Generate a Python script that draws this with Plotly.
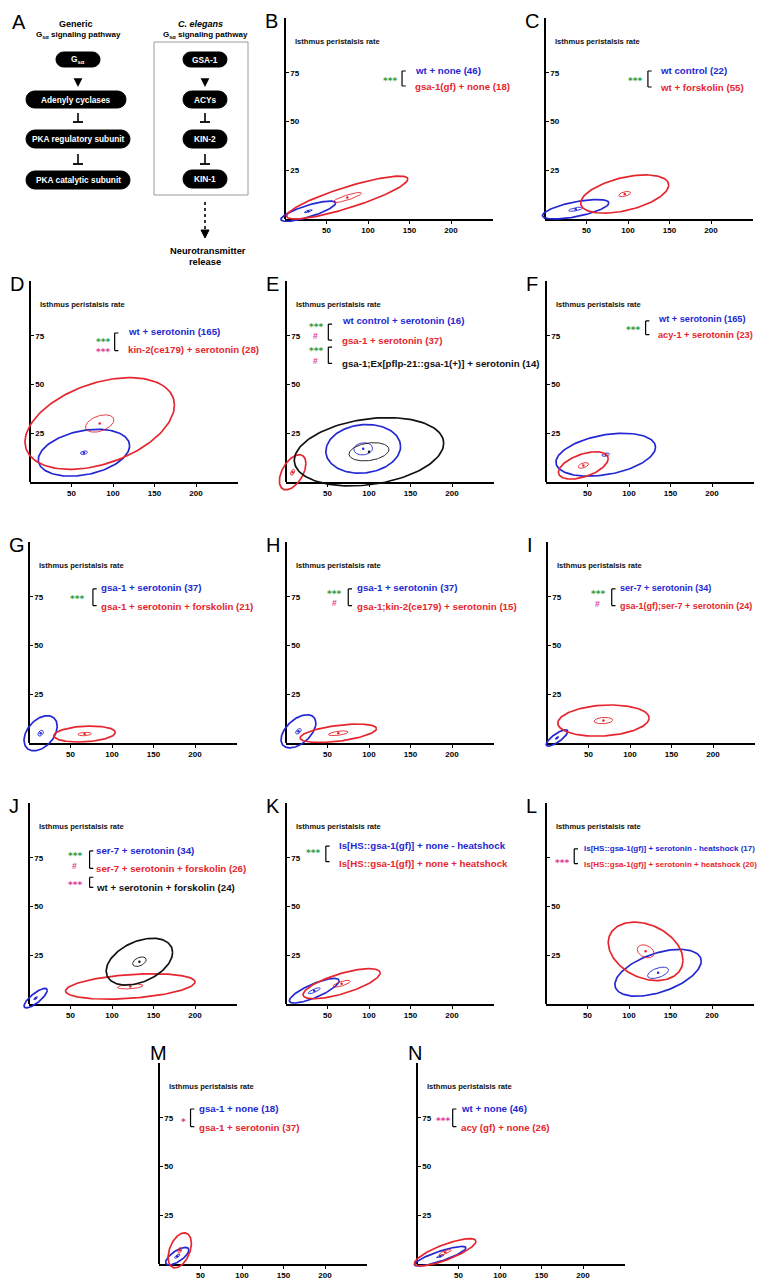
import numpy as np
import plotly.graph_objects as go

W, H = 767, 1280
KX, KY = 0.83, 1.95          # pixels per data unit
XMAX, YMAX = 250, 103

BLUE = "#2328d2"
RED = "#e6262e"
BLACK = "#111111"
GREEN = "#2e9b3e"
MAGENTA = "#dd3b96"
COL = {"b": BLUE, "r": RED, "k": BLACK}
FONT = "Liberation Sans"
STARFONT = "DejaVu Sans"

panels = list("BCDEFGHIJKLMN")

# ------------------------------------------------------------------ data
group_labels = {
    "B": ["wt + none (46)", "gsa-1(gf) + none (18)"],
    "C": ["wt control (22)", "wt + forskolin (55)"],
    "D": ["wt + serotonin (165)", "kin-2(ce179) + serotonin (28)"],
    "E": ["wt control + serotonin (16)", "gsa-1 + serotonin (37)",
          "gsa-1;Ex[pflp-21::gsa-1(+)] + serotonin (14)"],
    "F": ["wt + serotonin (165)", "acy-1 + serotonin (23)"],
    "G": ["gsa-1 + serotonin (37)", "gsa-1 + serotonin + forskolin (21)"],
    "H": ["gsa-1 + serotonin (37)", "gsa-1;kin-2(ce179) + serotonin (15)"],
    "I": ["ser-7 + serotonin (34)", "gsa-1(gf);ser-7 + serotonin (24)"],
    "J": ["ser-7 + serotonin (34)", "ser-7 + serotonin + forskolin (26)",
          "wt + serotonin + forskolin (24)"],
    "K": ["Is[HS::gsa-1(gf)] + none - heatshock", "Is[HS::gsa-1(gf)] + none + heatshock"],
    "L": ["Is[HS::gsa-1(gf)] + serotonin - heatshock (17)",
          "Is[HS::gsa-1(gf)] + serotonin + heatshock (20)"],
    "M": ["gsa-1 + none (18)", "gsa-1 + serotonin (37)"],
    "N": ["wt + none (46)", "acy (gf) + none (26)"],
}
group_colors = {p: ["b", "r"] for p in panels}
group_colors["E"] = ["b", "r", "k"]
group_colors["J"] = ["b", "r", "k"]

n_animals = {
    "B": [46, 18], "C": [22, 55], "D": [165, 28], "E": [16, 37, 14], "F": [165, 23],
    "G": [37, 21], "H": [37, 15], "I": [34, 24], "J": [34, 26, 24], "K": [17, 20],
    "L": [17, 20], "M": [18, 37], "N": [46, 26],
}
# mean pumping rate (x), mean peristalsis rate (y)
mean_x = {
    "B": [28, 75], "C": [37, 96], "D": [65, 84], "E": [93, 8, 100], "F": [72, 45],
    "G": [14, 67], "H": [15, 63], "I": [12, 68], "J": [8, 122, 133], "K": [34, 67],
    "L": [135, 120], "M": [22, 25], "N": [28, 34],
}
mean_y = {
    "B": [4, 11], "C": [5, 12.8], "D": [15, 30], "E": [17, 5, 15.5], "F": [14, 8.5],
    "G": [5, 4.6], "H": [6, 5], "I": [2.6, 11.5], "J": [3, 9, 21.7], "K": [6.8, 10.4],
    "L": [16, 27], "M": [4, 7], "N": [4, 6],
}
# standard deviations and x-y correlation of each group
sd_x = {
    "B": [33, 73], "C": [40, 53], "D": [55, 90], "E": [45, 16, 90], "F": [60, 30],
    "G": [20, 37], "H": [21, 46], "I": [13, 55], "J": [14, 78, 40], "K": [30, 46.5],
    "L": [52, 45], "M": [14, 14], "N": [31, 37],
}
sd_y = {
    "B": [5.2, 11], "C": [5, 9.8], "D": [12, 23.5], "E": [12.5, 9, 17.5], "F": [11, 7],
    "G": [9, 4.1], "H": [8.5, 4.7], "I": [4.2, 8], "J": [5, 6.5, 12], "K": [6.3, 7.7],
    "L": [12, 15], "M": [4.5, 9], "N": [5, 7],
}
corr = {
    "B": [0.8, 0.86], "C": [0.64, 0.47], "D": [0.3, 0.4], "E": [0.1, 0.5, 0.25],
    "F": [0.35, 0.5], "G": [0.4, 0.2], "H": [0.5, 0.5], "I": [0.8, 0.16],
    "J": [0.8, 0.35, 0.4], "K": [0.8, 0.72], "L": [0.5, -0.3], "M": [0.7, 0.4],
    "N": [0.85, 0.8],
}
x_ticks = [50, 100, 150, 200]
y_ticks = [25, 50, 75]

# ------------------------------------------------------------------ layout (pixels)
origin = {
    "B": (277, 211), "C": (537, 211),
    "D": (22, 474), "E": (278, 474), "F": (538, 474),
    "G": (21, 735), "H": (278, 735), "I": (539, 735),
    "J": (21, 996), "K": (278, 996), "L": (538, 996),
    "M": (151, 1256), "N": (409, 1256),
}
letter_dx = {p: -22 for p in panels}
letter_dy = {p: -211 for p in panels}
for p in "MN":
    letter_dx[p] = -11
    letter_dy[p] = -224
label_size = {p: 9.7 for p in panels}
label_size["F"] = 9.2
label_size["I"] = 9.0
label_size["L"] = 8.0
hidden_75 = {"L"}

legend_pos = {
    "B": dict(lx=155, ly=[76.4, 67.7], br=[(141, 75.9, 68.2)], st=[("***", GREEN, 126, 72)]),
    "C": dict(lx=137, ly=[76, 67.2], br=[(124, 75.9, 67.7)], st=[("***", GREEN, 109, 72)]),
    "D": dict(lx=117, ly=[77.4, 67.7], br=[(102, 76.4, 67.4)],
              st=[("***", GREEN, 88, 73.2), ("***", MAGENTA, 88, 68.0)]),
    "E": dict(lx=66, ly=[83, 72.8, 61], br=[(51, 81, 72.8), (51, 69.2, 60.8)],
              st=[("***", GREEN, 36, 80.8), ("#", MAGENTA, 36, 74.9),
                  ("***", GREEN, 36, 68.4), ("#", MAGENTA, 36, 62.3)]),
    "F": dict(lx=134, ly=[83.6, 75.4], br=[(120, 82.6, 75.6)], st=[("***", GREEN, 105, 79)]),
    "G": dict(lx=86, ly=[79.6, 70], br=[(77, 79, 70.5)], st=[("***", GREEN, 58, 75.2)]),
    "H": dict(lx=84, ly=[79.6, 70], br=[(75, 79, 70.5)],
              st=[("***", GREEN, 58, 77.8), ("#", MAGENTA, 58, 71.6)]),
    "I": dict(lx=87, ly=[79.6, 70.3], br=[(78, 79, 70.5)],
              st=[("***", GREEN, 61, 77.8), ("#", MAGENTA, 61, 71.2)]),
    "J": dict(lx=79, ly=[78.8, 69.4, 59.6], br=[(73, 78.5, 69.6), (73, 65, 59.8)],
              st=[("***", GREEN, 55, 77.0), ("#", MAGENTA, 55, 71.0), ("***", MAGENTA, 55, 62.3)]),
    "K": dict(lx=63, ly=[81.5, 72.3], br=[(48, 81, 73)], st=[("***", GREEN, 32.5, 78.8)]),
    "L": dict(lx=44, ly=[79.6, 71.4], br=[(34, 79.6, 72)], st=[("***", MAGENTA, 18.7, 73.6)]),
    "M": dict(lx=47, ly=[80, 70], br=[(38, 79.5, 70.5)], st=[("*", MAGENTA, 30, 74.2)]),
    "N": dict(lx=52, ly=[80, 70], br=[(43, 79.5, 70.5)], st=[("***", MAGENTA, 31, 74.4)]),
}


def ax(kind, n):
    return kind if n == 1 else f"{kind}{n}"


def axkey(kind, n):
    return f"{kind}axis" if n == 1 else f"{kind}axis{n}"


def ellipse(cx, cy, sx, sy, r, npts=140):
    t = np.linspace(0, 2 * np.pi, npts)
    return cx + sx * np.cos(t), cy + sy * (r * np.cos(t) + np.sqrt(1 - r * r) * np.sin(t))


fig = go.Figure()
layout = dict(width=W, height=H, margin=dict(l=0, r=0, t=0, b=0),
              paper_bgcolor="white", plot_bgcolor="rgba(0,0,0,0)", showlegend=False)
annotations, shapes = [], []
TICKFONT = dict(family=FONT, size=8, color="black", weight="bold")

for i, p in enumerate(panels):
    ox, oy = origin[p]
    v, h = 2 * i + 1, 2 * i + 2
    ytext = [str(t) for t in y_ticks]
    if p in hidden_75:
        ytext[-1] = ""
    # visible axes
    layout[axkey("x", v)] = dict(
        domain=[ox / W, (ox + XMAX * KX) / W], range=[0, XMAX], anchor=ax("y", v),
        showline=True, linecolor="black", linewidth=1.5, showgrid=False, zeroline=False,
        tickvals=x_ticks, ticks="outside", ticklen=3, tickwidth=1, tickcolor="black",
        tickfont=TICKFONT, fixedrange=True)
    layout[axkey("y", v)] = dict(
        domain=[(H - oy) / H, (H - oy + YMAX * KY) / H], range=[0, YMAX], anchor="free",
        position=ox / W, side="right",
        showline=True, linecolor="black", linewidth=1.5, showgrid=False, zeroline=False,
        tickvals=y_ticks, ticktext=ytext, ticks="outside", ticklen=3, tickwidth=1,
        tickcolor="black", tickfont=TICKFONT, fixedrange=True)
    # data axes (same scale, wider clip region)
    layout[axkey("x", h)] = dict(domain=[(ox - 18 * KX) / W, (ox + XMAX * KX) / W],
                                 range=[-18, XMAX], anchor=ax("y", h), visible=False)
    layout[axkey("y", h)] = dict(domain=[max(0, (H - oy - 9 * KY) / H), (H - oy + YMAX * KY) / H],
                                 range=[-9, YMAX], anchor=ax("x", h), visible=False)
    fig.add_trace(go.Scatter(x=[None], y=[None], xaxis=ax("x", v), yaxis=ax("y", v),
                             mode="markers", hoverinfo="skip"))

    lp = legend_pos[p]
    for g in range(len(group_labels[p])):
        c = COL[group_colors[p][g]]
        cx, cy, sx, sy, r = mean_x[p][g], mean_y[p][g], sd_x[p][g], sd_y[p][g], corr[p][g]
        sem = np.sqrt(n_animals[p][g])
        ex, ey = ellipse(cx, cy, sx, sy, r)
        fig.add_trace(go.Scatter(x=ex, y=ey, mode="lines", line=dict(color=c, width=1.7),
                                 xaxis=ax("x", h), yaxis=ax("y", h), hoverinfo="skip"))
        ex, ey = ellipse(cx, cy, sx / sem, sy / sem, r)
        fig.add_trace(go.Scatter(x=ex, y=ey, mode="lines", line=dict(color=c, width=0.9),
                                 xaxis=ax("x", h), yaxis=ax("y", h), hoverinfo="skip"))
        fig.add_trace(go.Scatter(x=[cx], y=[cy], mode="markers",
                                 marker=dict(color=c, size=2.5),
                                 xaxis=ax("x", h), yaxis=ax("y", h), hoverinfo="skip"))
        annotations.append(dict(
            x=lp["lx"], y=lp["ly"][g], xref=ax("x", v), yref=ax("y", v), text=group_labels[p][g],
            showarrow=False, xanchor="left", yanchor="middle", borderpad=0,
            font=dict(family=FONT, size=label_size[p], color=c, weight="bold")))

    for bx, y0, y1 in lp["br"]:
        for (xa, ya, xb, yb) in [(bx, y0, bx, y1), (bx, y0, bx + 4.5, y0), (bx, y1, bx + 4.5, y1)]:
            shapes.append(dict(type="line", xref=ax("x", v), yref=ax("y", v),
                               x0=xa, y0=ya, x1=xb, y1=yb, line=dict(color="black", width=1.2)))
    for txt_, c, sx_, sy_ in lp["st"]:
        star = "*" in txt_
        annotations.append(dict(
            x=sx_, y=sy_, xref=ax("x", v), yref=ax("y", v), text=txt_, showarrow=False,
            xanchor="center", yanchor="middle", yshift=-2.5 if star else 0, borderpad=0,
            font=dict(family=STARFONT if star else FONT, size=9 if star else 8.5,
                      color=c, weight="bold")))
    # axis titles
    annotations.append(dict(x=10, y=91, xref=ax("x", v), yref=ax("y", v),
                            text="Isthmus peristalsis rate", showarrow=False,
                            xanchor="left", yanchor="middle",
                            font=dict(family=FONT, size=7.6, color="#111", weight="bold")))
    annotations.append(dict(x=247, y=-12, xref=ax("x", v), yref=ax("y", v),
                            text="Pharyngeal pumping rate", showarrow=False,
                            xanchor="right", yanchor="middle",
                            font=dict(family=FONT, size=7.6, color="#111", weight="bold")))
    # panel letter
    annotations.append(dict(x=(ox + letter_dx[p]) / W, y=1 - (oy + letter_dy[p]) / H,
                            xref="paper", yref="paper",
                            text=p, showarrow=False, xanchor="left", yanchor="top",
                            font=dict(family="Liberation Sans", size=20, color="black")))

# ------------------------------------------------------------------ panel A (pixel axes)
PA = 2 * len(panels) + 1
layout[axkey("x", PA)] = dict(domain=[0, 1], range=[0, W], visible=False, anchor=ax("y", PA))
layout[axkey("y", PA)] = dict(domain=[0, 1], range=[H, 0], visible=False, anchor=ax("x", PA))
fig.add_trace(go.Scatter(x=[None], y=[None], xaxis=ax("x", PA), yaxis=ax("y", PA),
                         mode="markers", hoverinfo="skip"))
XA, YA = ax("x", PA), ax("y", PA)


def txt(x, y, s, size=8.5, color="black", bold=True, anchor="center"):
    annotations.append(dict(x=x, y=y, xref=XA, yref=YA, text=s, showarrow=False,
                            xanchor=anchor, yanchor="middle",
                            font=dict(family=FONT, size=size, color=color,
                                      weight="bold" if bold else "normal")))


def pill(x0, y0, x1, y1, label):
    rr = (y1 - y0) / 2
    pts = []
    for a in np.linspace(-np.pi / 2, np.pi / 2, 10):
        pts.append((x1 - rr + rr * np.cos(a), (y0 + y1) / 2 + rr * np.sin(a)))
    for a in np.linspace(np.pi / 2, 3 * np.pi / 2, 10):
        pts.append((x0 + rr + rr * np.cos(a), (y0 + y1) / 2 + rr * np.sin(a)))
    path = "M " + " L ".join(f"{px:.2f},{py:.2f}" for px, py in pts) + " Z"
    shapes.append(dict(type="path", path=path, xref=XA, yref=YA, fillcolor="black",
                       line=dict(color="black", width=1)))
    txt((x0 + x1) / 2, (y0 + y1) / 2, label, 8.3, "white")


def arrow_down(x, y0, y1):
    annotations.append(dict(x=x, y=y1, ax=x, ay=y0, xref=XA, yref=YA, axref=XA, ayref=YA,
                            text=" ", showarrow=True, arrowhead=2, arrowsize=1.1,
                            arrowwidth=1.6, arrowcolor="black"))


def tbar(x, y0, y1):
    shapes.append(dict(type="line", xref=XA, yref=YA, x0=x, y0=y0, x1=x, y1=y1,
                       line=dict(color="black", width=1.6)))
    shapes.append(dict(type="line", xref=XA, yref=YA, x0=x - 5, y0=y1, x1=x + 5, y1=y1,
                       line=dict(color="black", width=1.8)))


annotations.append(dict(x=2 / W, y=1 - 1 / H, xref="paper", yref="paper", text="A",
                        showarrow=False, xanchor="left", yanchor="top",
                        font=dict(family="Liberation Sans", size=20, color="black")))
txt(68, 16, "Generic", 9)
txt(70, 27, "G<sub>sα</sub> signaling pathway", 8)
txt(192, 16, "<i>C. elegans</i>", 9)
txt(197, 27, "G<sub>sα</sub> signaling pathway", 8)
shapes.append(dict(type="rect", xref=XA, yref=YA, x0=146, y0=34, x1=240, y1=187,
                   line=dict(color="#9a9a9a", width=1)))
pill(48, 44, 92, 59, "G<sub>sα</sub>")
pill(18, 83, 118, 100, "Adenyly cyclases")
pill(18, 122, 122, 140, "PKA regulatory subunit")
pill(18, 163, 122, 181, "PKA catalytic subunit")
pill(175, 44, 219, 59, "GSA-1")
pill(175, 83, 219, 100, "ACYs")
pill(175, 122, 219, 140, "KIN-2")
pill(175, 162, 219, 180, "KIN-1")
arrow_down(70, 62, 79)
arrow_down(197, 62, 79)
tbar(70, 105, 114)
tbar(70, 146, 156)
tbar(197, 105, 114)
tbar(197, 146, 156)
shapes.append(dict(type="line", xref=XA, yref=YA, x0=197, y0=194, x1=197, y1=223,
                   line=dict(color="black", width=1.6, dash="dot")))
shapes.append(dict(type="path", xref=XA, yref=YA, path="M 193,222 L 201,222 L 197,230 Z",
                   fillcolor="black", line=dict(color="black", width=1)))
txt(200, 243, "Neurotransmitter", 9.3)
txt(197, 254, "release", 9.3)

layout["annotations"] = annotations
layout["shapes"] = shapes
fig.update_layout(**layout)
fig.write_html("out.html")
